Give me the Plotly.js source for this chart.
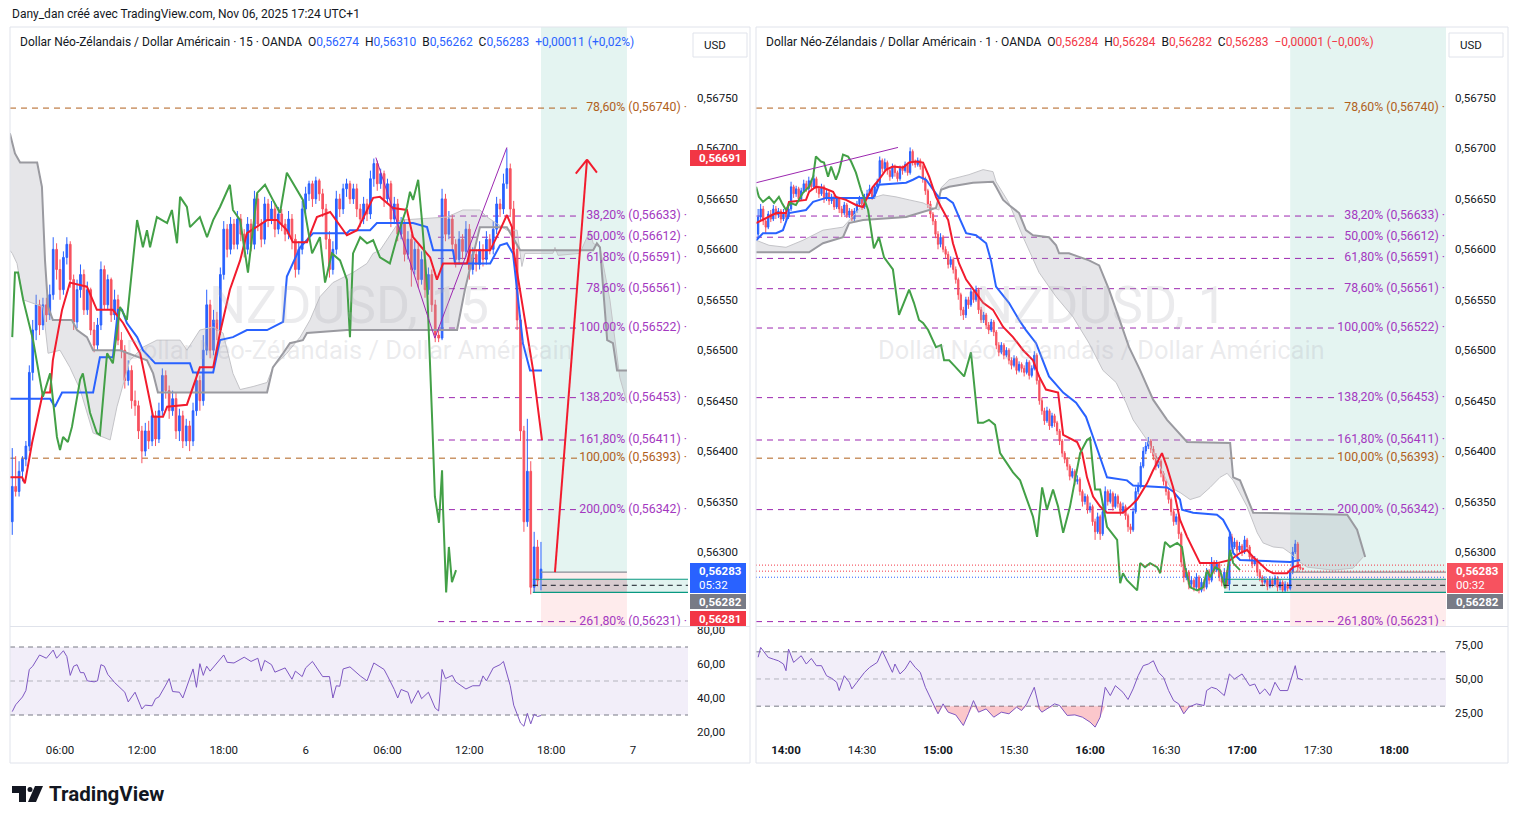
<!DOCTYPE html>
<html><head><meta charset="utf-8">
<script src="https://cdn.plot.ly/plotly-3.0.1.min.js"></script>
<style>html,body{margin:0;padding:0;background:#fff;}#chart{width:1518px;height:824px;}</style>
</head><body><div id="chart"></div>
<script>
// ===== DATA (prices in 1e-5 units, i.e. 56274 = 0,56274) =====
// Left chart: NZDUSD 15 min, bar index 0 = Nov 05 02:30
const L_startBar = 0;
const L_open = [56330,56365,56360,56380,56392,56405,56478,56520,56545,56525,
56545,56535,56555,56600,56580,56560,56592,56605,56570,56528,
56560,56575,56540,56560,56520,56505,56525,56580,56545,56570,
56535,56550,56510,56500,56470,56480,56450,56445,56420,56400,
56420,56410,56435,56412,56440,56475,56460,56440,56452,56420,
56435,56410,56425,56410,56440,56470,56450,56500,56545,56500,
56530,56520,56575,56620,56600,56625,56605,56630,56615,56600,
56625,56605,56650,56625,56610,56645,56630,56640,56620,56635,
56625,56615,56630,56610,56580,56600,56640,56655,56665,56650,
56668,56655,56640,56610,56580,56600,56650,56640,56660,56665,
56650,56660,56640,56630,56645,56635,56670,56685,56665,56675,
56650,56665,56630,56645,56615,56625,56595,56610,56580,56600,
56570,56590,56560,56575,56545,56515,56512,56650,56615,56630,
56605,56590,56610,56598,56620,56580,56595,56585,56600,56590,
56610,56600,56620,56645,56640,56665,56680,56640,56600,56530,
56420,56330,56380,56265,56305,56274];
const L_high = [56403,56395,56390,56395,56410,56485,56530,56555,56550,56552,
56552,56565,56612,56606,56590,56598,56612,56608,56575,56570,
56585,56580,56568,56562,56528,56532,56588,56584,56575,56572,
56560,56555,56518,56505,56490,56485,56460,56450,56425,56428,
56430,56440,56440,56448,56482,56480,56465,56460,56458,56442,
56440,56432,56430,56448,56478,56475,56515,56560,56550,56540,
56538,56582,56628,56625,56632,56630,56638,56635,56620,56632,
56630,56658,56655,56630,56652,56650,56648,56645,56642,56640,
56630,56638,56635,56615,56608,56648,56662,56668,56668,56672,
56670,56660,56645,56618,56608,56658,56655,56665,56670,56668,
56665,56665,56645,56652,56650,56678,56690,56688,56680,56678,
56670,56668,56652,56650,56632,56630,56618,56615,56608,56605,
56598,56595,56582,56580,56550,56522,56660,56655,56638,56635,
56610,56618,56615,56628,56625,56602,56600,56608,56605,56618,
56615,56628,56652,56650,56675,56700,56685,56648,56605,56535,
56425,56432,56390,56320,56312,56310];
const L_low = [56317,56355,56355,56370,56385,56400,56470,56510,56515,56520,
56528,56530,56550,56570,56550,56555,56585,56562,56520,56522,
56552,56535,56535,56515,56498,56500,56520,56540,56540,56528,
56530,56505,56492,56462,56465,56442,56435,56412,56388,56395,
56402,56405,56405,56408,56435,56452,56432,56435,56412,56410,
56403,56405,56400,56405,56435,56440,56445,56495,56492,56495,
56510,56515,56570,56592,56595,56600,56600,56608,56592,56595,
56598,56600,56618,56602,56605,56622,56625,56612,56615,56618,
56608,56610,56600,56572,56575,56595,56635,56648,56642,56645,
56648,56632,56600,56572,56575,56595,56632,56635,56652,56645,
56645,56632,56622,56625,56628,56630,56662,56658,56660,56642,
56645,56622,56625,56608,56610,56588,56590,56563,56575,56562,
56565,56552,56555,56538,56508,56508,56510,56608,56610,56598,
56582,56585,56590,56592,56570,56575,56578,56580,56583,56585,
56595,56595,56615,56632,56635,56660,56632,56592,56520,56410,
56320,56325,56258,56260,56266,56262];
const L_close = [56365,56360,56380,56392,56405,56478,56520,56545,56525,56545,
56535,56555,56600,56580,56560,56592,56605,56570,56528,56560,
56575,56540,56560,56520,56505,56525,56580,56545,56570,56535,
56550,56510,56500,56470,56480,56450,56445,56420,56400,56420,
56410,56435,56412,56440,56475,56460,56440,56452,56420,56435,
56410,56425,56410,56440,56470,56450,56500,56545,56500,56530,
56520,56575,56620,56600,56625,56605,56630,56615,56600,56625,
56605,56650,56625,56610,56645,56630,56640,56620,56635,56625,
56615,56630,56610,56580,56600,56640,56655,56665,56650,56668,
56655,56640,56610,56580,56600,56650,56640,56660,56665,56650,
56660,56640,56630,56645,56635,56670,56685,56665,56675,56650,
56665,56630,56645,56615,56625,56595,56610,56580,56600,56570,
56590,56560,56575,56545,56515,56512,56650,56615,56630,56605,
56590,56610,56598,56620,56580,56595,56585,56600,56590,56610,
56600,56620,56645,56640,56665,56680,56640,56600,56530,56420,
56330,56380,56265,56305,56272,56283];
// Ichimoku-style lines, [bar index, price]
const L_blueLine = [[-0.7,56452],[11.1,56452],[12.5,56444],[14.6,56458],[23.7,56458],[25.7,56493],[29.5,56493],[31.0,56540],[32.2,56540],[33.6,56527],[36.6,56513],[38.3,56500],[41.9,56487],[52.1,56487],[53.0,56478],[58.9,56478],[60.9,56510],[64.7,56513],[68.8,56520],[74.7,56520],[79.4,56528],[80.5,56573],[84.4,56602],[88.2,56616],[98.1,56616],[99.0,56619],[104.9,56619],[106.9,56626],[117.5,56626],[121.6,56622],[123.4,56599],[129.2,56599],[129.8,56586],[140.1,56586],[143.0,56604],[145.0,56606],[146.8,56596],[149.7,56507],[151.8,56480],[155.3,56480]];
const L_redLine = [[-0.7,56374],[2.9,56374],[3.7,56368],[5.8,56408],[9.0,56458],[11.1,56458],[11.9,56490],[14.6,56540],[16.9,56567],[21.9,56563],[24.8,56540],[29.5,56540],[32.5,56527],[35.4,56510],[37.5,56497],[41.3,56434],[44.2,56434],[45.4,56444],[51.2,56446],[55.0,56483],[58.9,56483],[60.9,56517],[63.8,56560],[66.8,56589],[68.8,56616],[74.7,56629],[77.6,56629],[80.5,56619],[82.3,56607],[86.4,56607],[89.3,56632],[93.2,56637],[98.1,56614],[101.1,56619],[105.8,56651],[107.8,56652],[111.6,56641],[115.7,56639],[117.5,56612],[122.5,56592],[124.5,56570],[126.3,56586],[133.3,56586],[134.2,56599],[140.1,56599],[143.0,56619],[145.0,56634],[146.5,56622],[146.8,56602],[152.7,56480],[155.3,56411]];
const L_greenLine = [[0,56513],[0.8,56577],[1.7,56577],[3.2,56550],[6.1,56510],[9.0,56454],[11.1,56477],[13.1,56414],[14.0,56401],[14.9,56414],[16.3,56409],[17.5,56424],[19.9,56471],[20.7,56477],[22.8,56438],[24.8,56418],[25.7,56416],[27.8,56497],[29.5,56487],[31.6,56543],[33.6,56530],[36.6,56629],[38.3,56602],[39.5,56619],[40.4,56602],[42.4,56632],[45.4,56626],[46.8,56639],[48.3,56606],[49.2,56652],[51.2,56642],[52.1,56622],[55.0,56632],[57.1,56612],[58.9,56629],[60.9,56642],[63.8,56664],[64.7,56639],[66.8,56629],[69.1,56577],[71.8,56656],[74.1,56664],[76.4,56649],[78.5,56636],[80.5,56676],[83.5,56659],[85.2,56649],[87.9,56596],[90.2,56612],[91.7,56567],[93.7,56596],[96.1,56589],[98.1,56570],[99.0,56513],[99.9,56596],[102.0,56612],[104.0,56606],[105.8,56609],[107.8,56592],[110.7,56586],[112.8,56612],[115.7,56642],[116.6,56657],[117.5,56649],[119.0,56669],[120.1,56629],[121.6,56563],[123.1,56431],[123.9,56355],[125.1,56329],[126.0,56381],[126.3,56342],[127.2,56260],[128.0,56305],[128.9,56270],[130.1,56282]];
const L_cloudA = [[-0.7,56599],[0,56596],[1.4,56586],[3.2,56550],[9.0,56543],[10.5,56497],[14.0,56500],[16.9,56483],[19.9,56461],[23.7,56418],[28.7,56411],[30.7,56444],[34.5,56490],[38.3,56503],[42.4,56510],[49.2,56510],[51.2,56500],[55.0,56520],[58.9,56523],[61.8,56517],[64.7,56477],[66.8,56461],[70.6,56464],[74.7,56468],[76.4,56483],[80.5,56497],[84.4,56513],[87.3,56530],[90.2,56553],[94.0,56567],[99.9,56577],[104.0,56586],[105.8,56596],[107.8,56599],[113.7,56629],[127.5,56632],[132.1,56639],[137.1,56639],[139.2,56632],[145.0,56619],[148.0,56619],[149.4,56583],[150.3,56596],[158.5,56596],[159.1,56602],[160.0,56594],[166.4,56596],[169.4,56619],[170.3,56606],[172.3,56602],[175.2,56550],[178.1,56473],[180.2,56448]];
const L_cloudB = [[-0.7,56715],[0.8,56695],[2.3,56686],[7.3,56686],[8.7,56662],[9.6,56589],[10.5,56543],[11.9,56530],[17.5,56530],[19.0,56520],[21.9,56513],[23.7,56500],[31.6,56500],[39.5,56490],[41.3,56477],[42.7,56458],[74.7,56458],[76.4,56483],[79.4,56497],[81.4,56507],[85.2,56510],[86.4,56517],[98.1,56520],[130.4,56520],[132.7,56560],[137.1,56622],[145.0,56622],[148.9,56599],[170.3,56599],[171.4,56606],[172.3,56602],[174.4,56510],[176.1,56507],[177.3,56480],[180.2,56480]];
const L_rsi = [[0,32],[1,36],[3,40.6],[4,44.4],[5,56.8],[6,58.7],[8,65.3],[10,63.4],[12,68.2],[13,63.4],[15,67.8],[16,64.4],[17,53.3],[18,58.7],[19,59.6],[20,54.9],[21,54.9],[22,50.1],[24,49.5],[25,50.1],[26,59.6],[27,58.7],[28,53.9],[30,49.1],[33,43.4],[34,37.7],[36,43.4],[38,33.5],[39,35.8],[41,35.4],[42,39.6],[43,40.6],[45,47.6],[46,51.4],[47,43.8],[49,43.4],[50,40.0],[52,52.0],[53,57.1],[54,46.3],[55,60.2],[56,53.3],[57,58.7],[58,55.8],[60,60.6],[62,65.3],[63,61.0],[65,60.6],[68,64.0],[70,61.5],[72,63.4],[73,55.8],[74,62.1],[76,59.6],[77,55.2],[80,57.7],[82,51.0],[83,55.8],[85,52.6],[86,57.7],[88,61.5],[90,55.2],[91,52.6],[93,52.6],[94,40.0],[95,47.2],[96,46.9],[97,57.1],[99,58.3],[102,53.0],[104,50.1],[106,60.6],[109,56.8],[110,53.0],[112,45.0],[113,40.0],[114,45.0],[116,43.4],[117,36.8],[119,44.4],[120,39.6],[122,43.4],[123,38.7],[124,34],[125,32.4],[126,56.8],[127,51.4],[129,53.3],[130,49.5],[133,45.3],[135,47.2],[137,47.2],[138,53.0],[139,50.1],[141,57.7],[143,59.6],[144,61.5],[146,47.2],[147,35.8],[149,25.3],[150,23.4],[151,31.0],[152,24.8],[153,30.5],[154,29.1],[155,29.7]];
const L_timeTickVals = [14,38,62,86,110,134,158,182];
const L_timeTickText = ['06:00','12:00','18:00','6','06:00','12:00','18:00','7'];

// Right chart: NZDUSD 1 min, index = minutes since Nov 06 14:00
const R_startMin = -11;
const R_open = [56615,56632,56640,56628,56622,56635,56630,56640,56634,56638,
56630,56636,56632,56640,56662,56655,56660,56650,56658,56665,
56660,56668,56662,56670,56660,56655,56662,56650,56656,56648,
56652,56642,56650,56640,56636,56644,56634,56638,56630,56638,
56645,56650,56642,56652,56655,56660,56652,56662,56666,56688,
56680,56686,56678,56672,56682,56676,56670,56680,56678,56684,
56676,56697,56686,56684,56688,56682,56670,56658,56645,56635,
56628,56615,56605,56612,56600,56595,56585,56590,56580,56570,
56555,56540,56535,56550,56545,56558,56550,56560,56540,56530,
56535,56525,56520,56528,56518,56505,56498,56505,56495,56500,
56490,56485,56492,56480,56486,56482,56478,56488,56475,56482,
56495,56470,56450,56440,56430,56440,56425,56435,56428,56420,
56410,56398,56392,56385,56375,56380,56370,56372,56360,56350,
56355,56342,56345,56330,56320,56335,56318,56340,56360,56350,
56358,56345,56355,56348,56340,56345,56336,56325,56322,56340,
56360,56365,56385,56400,56405,56410,56402,56395,56385,56390,
56378,56370,56360,56352,56340,56330,56335,56318,56290,56275,
56280,56268,56272,56265,56275,56262,56270,56265,56280,56272,
56290,56282,56288,56275,56270,56280,56268,56315,56305,56310,
56302,56306,56300,56312,56305,56295,56288,56292,56280,56275,
56270,56272,56266,56272,56268,56274,56265,56270,56262,56268,
56264,56280,56300,56308,56285,56284];
const R_high = [56640,56645,56643,56631,56638,56639,56644,56643,56641,56640,
56640,56639,56645,56667,56664,56663,56662,56661,56669,56668,
56672,56670,56674,56672,56663,56665,56664,56659,56658,56655,
56654,56653,56652,56643,56647,56646,56641,56640,56641,56648,
56653,56652,56655,56659,56664,56662,56665,56670,56692,56690,
56690,56688,56681,56685,56684,56678,56683,56683,56687,56686,
56701,56699,56689,56691,56690,56684,56672,56660,56648,56637,
56630,56618,56616,56614,56603,56598,56593,56592,56583,56572,
56557,56543,56553,56553,56562,56560,56564,56562,56543,56538,
56537,56528,56531,56530,56520,56508,56508,56507,56503,56502,
56493,56495,56494,56489,56488,56485,56491,56490,56485,56499,
56497,56472,56453,56443,56444,56442,56438,56437,56430,56422,
56412,56400,56394,56387,56383,56382,56376,56374,56362,56358,
56357,56349,56347,56333,56339,56337,56344,56365,56362,56362,
56360,56358,56357,56350,56349,56347,56338,56328,56344,56364,
56369,56389,56404,56409,56414,56412,56405,56398,56394,56392,
56380,56372,56363,56354,56343,56338,56337,56320,56293,56284,
56282,56276,56274,56279,56277,56274,56273,56284,56283,56295,
56292,56292,56290,56278,56284,56282,56320,56318,56314,56312,
56310,56308,56316,56314,56307,56297,56296,56294,56283,56277,
56276,56274,56276,56274,56277,56276,56273,56272,56271,56270,
56284,56305,56312,56310,56288,56284];
const R_low = [56610,56628,56624,56616,56620,56627,56628,56630,56631,56626,
56628,56629,56630,56638,56651,56652,56647,56648,56656,56657,
56658,56659,56660,56656,56651,56653,56646,56648,56644,56645,
56639,56640,56636,56632,56634,56631,56631,56628,56628,56636,
56643,56639,56640,56650,56653,56649,56650,56660,56664,56676,
56678,56674,56668,56670,56672,56667,56668,56674,56676,56673,
56674,56683,56681,56682,56679,56666,56654,56641,56631,56624,
56611,56600,56602,56597,56591,56581,56582,56576,56566,56550,
56534,56530,56532,56541,56543,56547,56548,56536,56527,56527,
56521,56516,56518,56514,56501,56494,56496,56491,56493,56486,
56481,56483,56476,56478,56478,56474,56476,56471,56473,56480,
56466,56446,56436,56426,56428,56421,56423,56424,56416,56406,
56394,56388,56381,56371,56373,56366,56367,56356,56345,56347,
56338,56339,56326,56312,56318,56312,56316,56338,56346,56348,
56341,56343,56344,56336,56338,56332,56320,56318,56320,56338,
56357,56363,56383,56397,56402,56398,56391,56381,56383,56374,
56366,56356,56348,56336,56326,56327,56313,56285,56270,56272,
56263,56265,56261,56263,56259,56260,56261,56263,56268,56270,
56278,56280,56271,56266,56268,56264,56262,56301,56303,56298,
56300,56296,56298,56301,56291,56284,56286,56276,56271,56266,
56268,56262,56264,56265,56266,56261,56262,56260,56260,56261,
56262,56278,56298,56280,56282,56282];
const R_close = [56632,56640,56628,56622,56635,56630,56640,56634,56638,56630,
56636,56632,56640,56662,56655,56660,56650,56658,56665,56660,
56668,56662,56670,56660,56655,56662,56650,56656,56648,56652,
56642,56650,56640,56636,56644,56634,56638,56630,56638,56645,
56650,56642,56652,56655,56660,56652,56662,56666,56688,56680,
56686,56678,56672,56682,56676,56670,56680,56678,56684,56676,
56697,56686,56684,56688,56682,56670,56658,56645,56635,56628,
56615,56605,56612,56600,56595,56585,56590,56580,56570,56555,
56540,56535,56550,56545,56558,56550,56560,56540,56530,56535,
56525,56520,56528,56518,56505,56498,56505,56495,56500,56490,
56485,56492,56480,56486,56482,56478,56488,56475,56482,56495,
56470,56450,56440,56430,56440,56425,56435,56428,56420,56410,
56398,56392,56385,56375,56380,56370,56372,56360,56350,56355,
56342,56345,56330,56320,56335,56318,56340,56360,56350,56358,
56345,56355,56348,56340,56345,56336,56325,56322,56340,56360,
56365,56385,56400,56405,56410,56402,56395,56385,56390,56378,
56370,56360,56352,56340,56330,56335,56318,56290,56275,56280,
56268,56272,56265,56275,56262,56270,56265,56280,56272,56290,
56282,56288,56275,56270,56280,56268,56315,56305,56310,56302,
56306,56300,56312,56305,56295,56288,56292,56280,56275,56270,
56272,56266,56272,56268,56274,56265,56270,56262,56268,56264,
56280,56300,56308,56285,56284,56283];
const R_redLine = [[-11.8,56626],[-7.9,56631],[-3.9,56636],[0,56636],[1.2,56647],[7.9,56649],[9.1,56657],[11.8,56662],[14.6,56661],[18.6,56657],[19.7,56652],[23.7,56649],[27.6,56644],[30.4,56642],[31.6,56649],[34.3,56662],[36.7,56669],[39.5,56679],[42.2,56682],[46.2,56681],[48.6,56686],[51.3,56687],[54.1,56686],[56.5,56672],[59.2,56652],[61.2,56642],[64.0,56629],[65.9,56606],[68.3,56586],[71.1,56570],[75.0,56557],[77.8,56547],[81.7,56540],[85.7,56523],[89.6,56513],[93.6,56500],[97.5,56490],[99.9,56474],[102.6,56461],[107.4,56458],[109.4,56416],[114.9,56409],[116.9,56398],[118.8,56374],[121.2,56355],[124.0,56345],[126.7,56339],[133.0,56339],[135.8,56345],[138.6,56352],[142.5,56368],[144.9,56381],[148.4,56398],[150.4,56384],[152.8,56364],[155.5,56332],[158.3,56315],[160.7,56302],[163.4,56289],[170.1,56289],[175.3,56292],[179.2,56299],[182.0,56302],[184.4,56295],[187.1,56289],[189.9,56282],[192.3,56279],[197.8,56279],[200.2,56285],[202.9,56287]];
const R_blueLine = [[-11.8,56609],[-9.1,56616],[-3.9,56616],[-1.2,56619],[1.2,56636],[7.9,56639],[10.7,56647],[15.8,56651],[34.3,56651],[35.5,56656],[36.7,56664],[47.4,56666],[50.1,56669],[52.5,56672],[55.3,56669],[58.0,56659],[60.4,56651],[63.2,56651],[65.9,56646],[68.3,56632],[71.1,56616],[75.0,56614],[79.0,56606],[80.9,56589],[82.9,56563],[88.0,56547],[92.0,56530],[94.7,56520],[98.7,56507],[103.8,56474],[109.4,56458],[114.5,56448],[118.4,56434],[121.2,56414],[124.0,56394],[126.7,56374],[134.6,56371],[137.0,56366],[150.4,56364],[152.8,56360],[155.5,56352],[156.3,56342],[160.7,56339],[170.1,56337],[172.5,56332],[175.3,56319],[176.5,56299],[179.2,56292],[199.0,56290],[202.9,56292]];
const R_greenLine = [[-11.8,56662],[-10.7,56652],[-9.1,56647],[-6.7,56652],[-4.7,56646],[-2.8,56652],[-1.6,56646],[0,56639],[1.6,56646],[3.9,56644],[6.7,56656],[9.1,56662],[10.7,56672],[11.8,56692],[13.8,56687],[15.0,56686],[16.6,56672],[17.8,56682],[19.7,56669],[20.9,56677],[22.5,56694],[24.5,56692],[25.7,56687],[27.6,56676],[29.6,56659],[30.8,56651],[32.4,56639],[34.7,56601],[36.7,56612],[38.7,56592],[42.2,56580],[44.6,56535],[46.6,56547],[48.6,56560],[50.5,56547],[52.5,56530],[54.1,56527],[56.1,56520],[59.2,56503],[61.2,56505],[62.4,56490],[64.4,56490],[66.3,56485],[68.3,56480],[70.3,56474],[73.0,56498],[75.8,56428],[77.8,56428],[80.1,56431],[82.5,56426],[84.5,56398],[89.6,56379],[92.4,56371],[95.1,56352],[97.5,56335],[99.1,56315],[101.1,56364],[103.0,56342],[105.4,56362],[107.4,56345],[109.4,56319],[112.1,56345],[116.1,56398],[118.8,56411],[120.0,56413],[122.0,56362],[124.0,56362],[126.7,56325],[130.7,56312],[131.9,56269],[133.0,56279],[134.6,56272],[136.6,56267],[138.6,56262],[139.8,56289],[141.7,56285],[143.7,56289],[146.5,56285],[147.7,56279],[149.6,56310],[151.6,56305],[154.4,56309],[156.3,56305],[157.5,56285],[159.5,56265],[162.3,56262],[164.6,56265],[166.2,56282],[167.4,56275],[169.4,56285],[171.3,56282],[173.3,56264],[175.3,56302],[176.5,56289],[179.2,56282]];
const R_cloudA = [[-11.8,56609],[-6.7,56604],[0,56602],[6.7,56609],[14.6,56619],[22.5,56622],[27.6,56636],[31.6,56649],[38.3,56654],[43.4,56652],[48.6,56649],[54.1,56646],[58.0,56641],[60.4,56639],[61.2,56661],[64.4,56669],[72.2,56674],[77.8,56679],[81.7,56677],[82.9,56667],[88.0,56646],[93.6,56612],[99.9,56577],[106.6,56553],[113.3,56533],[119.6,56507],[125.1,56480],[130.3,56468],[134.2,56448],[137.0,56431],[142.5,56411],[147.7,56384],[151.6,56364],[155.5,56359],[159.5,56352],[163.4,56355],[167.4,56364],[171.3,56374],[174.1,56378],[176.5,56371],[182.0,56345],[186.0,56319],[188.3,56309],[192.3,56305],[196.2,56304],[199.0,56299],[201.7,56292],[205.7,56285],[215.9,56282],[223.8,56284],[227.8,56295]];
const R_cloudB = [[-11.8,56597],[9.1,56597],[14.6,56606],[22.5,56612],[24.9,56626],[30.4,56629],[47.4,56632],[54.1,56637],[59.2,56641],[61.2,56659],[64.4,56662],[73.8,56666],[81.7,56667],[82.9,56662],[85.7,56649],[88.0,56644],[92.0,56636],[94.7,56619],[97.5,56614],[103.8,56612],[106.6,56604],[107.8,56596],[111.7,56596],[119.6,56589],[123.6,56584],[127.5,56560],[130.3,56540],[133.0,56520],[135.4,56503],[139.8,56480],[144.9,56451],[150.4,56431],[158.3,56409],[175.3,56408],[176.5,56374],[179.2,56371],[184.4,56339],[221.5,56337],[225.4,56322],[226.6,56312],[228.6,56295]];
const R_rsi = [[-11,66],[-10,73.2],[-8,68.3],[-7,65.9],[-5,64.6],[-3,63.4],[-1,61.0],[0,56.1],[1,72.0],[3,62.2],[6,67.1],[8,61.0],[10,65.1],[12,59.8],[14,59.8],[16,52.4],[18,50.5],[20,47.6],[21,41.5],[23,52.4],[25,47.6],[26,42.7],[28,47.6],[31,54.9],[33,58.5],[36,62.2],[38,70.7],[40,63.4],[42,54.9],[43,61.0],[45,53.7],[47,57.3],[49,63.4],[51,58.5],[53,54.9],[55,43.9],[58,31.7],[60,24.4],[62,31.7],[64,25.6],[67,23.6],[70,15.8],[72,24.4],[74,34.1],[76,25.6],[79,28.0],[82,21.9],[85,25.6],[88,24.4],[91,29.3],[93,26.8],[95,31.7],[98,43.9],[100,28.0],[101,25.6],[103,28.0],[106,31.7],[108,30.5],[111,23.2],[114,23.6],[117,21.9],[120,18.3],[122,14.6],[124,21.9],[126,43.9],[128,37.8],[130,45.1],[133,40.2],[135,34.9],[137,42.7],[139,52.4],[141,59.8],[143,61.0],[145,63.4],[147,54.9],[149,51.2],[151,41.5],[153,34.1],[155,31.7],[157,24.4],[159,29.3],[162,31.7],[165,30.5],[166,41.5],[168,43.9],[170,42.7],[173,37.8],[175,53.7],[177,50.0],[180,53.7],[183,45.1],[185,46.3],[187,39.0],[189,42.7],[191,37.8],[193,47.6],[195,41.5],[198,41.5],[200,54.9],[201,59.8],[202,50.5],[204,49.3]];
const R_timeTickVals = [0,30,60,90,120,150,180,210,240];
const R_timeTickText = ['<b>14:00</b>','14:30','<b>15:00</b>','15:30','<b>16:00</b>','16:30','<b>17:00</b>','17:30','<b>18:00</b>'];

// Fibonacci levels (both charts), price scale ticks, RSI ticks
const fibLevels = [38.2, 50, 61.8, 78.6, 100, 138.2, 161.8, 200, 261.8];
const fibPrices = [56633, 56612, 56591, 56561, 56522, 56453, 56411, 56342, 56231];
const fib2Levels = [78.6, 100];
const fib2Prices = [56740, 56393];
const priceTicks = [56300,56350,56400,56450,56500,56550,56600,56650,56700,56750];
const L_rsiTicks = [20, 40, 60, 80];
const R_rsiTicks = [25, 50, 75];
const L_pointA = 56691;        // label of the fib extension start point
const L_countdown = '05:32', R_countdown = '00:32';
const bidAsk = [56282, 56281]; // grey / red axis labels

// ===== LAYOUT HELPERS =====
const W = 1518, H = 824;
const px = x => x / W, py = y => 1 - y / H;
const P = v => v / 1e5;
const FONT = 'Roboto, "Noto Sans", Arial, sans-serif';
const fmt5 = v => (v / 1e5).toFixed(5).replace('.', ',');
const fmtPct = v => v.toFixed(2).replace('.', ',') + '%';
const PURPLE = '#9c27b0', BROWN = '#b0601c';
const BLUE = '#2962ff', RED = '#f7525f', LRED = '#f21b2d', GREEN = '#43a047';

const LX = [-0.66, 198.1], RX = [-11.84, 260.5];
const PY = [0.5622665, 0.5682037];

const traces = [];
function lineTrace(pairs, xa, ya, color, width, extra) {
  return Object.assign({type:'scatter', mode:'lines', x: pairs.map(p=>p[0]), y: pairs.map(p=>P(p[1])),
    xaxis: xa, yaxis: ya, line:{color, width}, hoverinfo:'skip', showlegend:false}, extra||{});
}
function cloud(A, B, xa, ya) {
  traces.push(lineTrace(A, xa, ya, '#c4c4c8', 1));
  traces.push(lineTrace(B, xa, ya, '#9a9aa0', 2, {fill:'tonexty', fillcolor:'rgba(165,165,175,0.28)'}));
}
function candles(xs, o, h, l, c, xa, ya) {
  traces.push({type:'candlestick', x: xs, open:o.map(P), high:h.map(P), low:l.map(P), close:c.map(P),
    xaxis:xa, yaxis:ya, whiskerwidth:0, hoverinfo:'skip', showlegend:false,
    increasing:{line:{color:BLUE, width:1}, fillcolor:BLUE},
    decreasing:{line:{color:RED, width:1}, fillcolor:RED}});
}
const L_x = L_close.map((_, i) => L_startBar + i);
const R_x = R_close.map((_, i) => R_startMin + i);

// left price pane
cloud(L_cloudA, L_cloudB, 'x', 'y');
traces.push(lineTrace(L_blueLine, 'x', 'y', BLUE, 2));
traces.push(lineTrace(L_redLine, 'x', 'y', LRED, 2));
traces.push(lineTrace(L_greenLine, 'x', 'y', GREEN, 2));
candles(L_x, L_open, L_high, L_low, L_close, 'x', 'y');
// right price pane
cloud(R_cloudA, R_cloudB, 'x3', 'y3');
traces.push(lineTrace(R_blueLine, 'x3', 'y3', BLUE, 2));
traces.push(lineTrace(R_redLine, 'x3', 'y3', LRED, 2));
traces.push(lineTrace(R_greenLine, 'x3', 'y3', GREEN, 2));
candles(R_x, R_open, R_high, R_low, R_close, 'x3', 'y3');

// fib labels (as text traces so they are clipped by the pane)
function fibLabel(lv, pr, color, xpos, xa, ya) {
  traces.push({type:'scatter', mode:'text', x: pr.map(()=>xpos), y: pr.map(P),
    text: lv.map((l,i)=> l.toFixed(2).replace('.', ',') + '% (' + fmt5(pr[i]) + ') ·'),
    textposition:'middle left', textfont:{color, size:12.3, family:FONT},
    xaxis:xa, yaxis:ya, hoverinfo:'skip', showlegend:false, cliponaxis:true});
}
fibLabel(fibLevels, fibPrices, '#a338c0', 197.8, 'x', 'y');
fibLabel(fib2Levels, fib2Prices, BROWN, 197.8, 'x', 'y');
fibLabel(fibLevels, fibPrices, '#a338c0', 260.1, 'x3', 'y3');
fibLabel(fib2Levels, fib2Prices, BROWN, 260.1, 'x3', 'y3');

// RSI
traces.push({type:'scatter', mode:'lines', x:L_rsi.map(p=>p[0]), y:L_rsi.map(p=>p[1]), xaxis:'x2', yaxis:'y2',
  line:{color:'#7e57c2', width:1}, hoverinfo:'skip', showlegend:false});
traces.push({type:'scatter', mode:'lines', x:R_rsi.map(p=>p[0]), y:R_rsi.map(()=>30), xaxis:'x4', yaxis:'y4',
  line:{width:0}, hoverinfo:'skip', showlegend:false});
traces.push({type:'scatter', mode:'lines', x:R_rsi.map(p=>p[0]), y:R_rsi.map(p=>Math.min(p[1],30)), xaxis:'x4', yaxis:'y4',
  line:{width:0}, fill:'tonexty', fillcolor:'rgba(242,54,69,0.28)', hoverinfo:'skip', showlegend:false});
traces.push({type:'scatter', mode:'lines', x:R_rsi.map(p=>p[0]), y:R_rsi.map(p=>p[1]), xaxis:'x4', yaxis:'y4',
  line:{color:'#7e57c2', width:1}, hoverinfo:'skip', showlegend:false});

// ===== SHAPES =====
const shapes = [];
const hline = (xa, ya, x0, x1, y, color, dash, width, layer) =>
  shapes.push({type:'line', xref:xa, yref:ya, x0, x1, y0:y, y1:y, line:{color, width:width||1, dash:dash||'solid'}, layer:layer||'above'});
const rect = (xa, ya, x0, x1, y0, y1, fill, line, layer) =>
  shapes.push({type:'rect', xref:xa, yref:ya, x0, x1, y0, y1, fillcolor:fill, line:line||{width:0}, layer:layer||'below'});

// long-position tools
function tool(xa, ya, xEntry, xEnd, xBoxStart, xAxisEnd, grayFrom) {
  rect(xa, ya, xEntry, xEnd, P(56280), 0.5690, 'rgba(8,153,129,0.11)');
  rect(xa, ya, xEntry, xEnd, 0.5620, P(56280), 'rgba(242,54,69,0.10)');
  rect(xa, ya, grayFrom, xEnd, P(56260), P(56273), 'rgba(120,123,134,0.28)');
  rect(xa, ya, grayFrom === xBoxStart ? xEnd : xBoxStart, grayFrom === xBoxStart ? xAxisEnd : grayFrom, P(56260), P(56273), 'rgba(8,153,129,0.12)');
  hline(xa, ya, xBoxStart, xAxisEnd, P(56273), '#089981', 'solid', 1.2);
  hline(xa, ya, xBoxStart, xAxisEnd, P(56260), '#089981', 'solid', 1.2);
  hline(xa, ya, xBoxStart, xAxisEnd, P(56267), '#131722', '5px,4px', 1);
  hline(xa, ya, xEntry, xEnd, P(56280), '#8a8d96', 'solid', 1.2);
}
tool('x', 'y', 155.0, 180.2, 152.6, 198.1, 152.6);
tool('x3', 'y3', 199.0, 260.5, 172.9, 260.5, 199.0);
// right chart dotted lines
hline('x3','y3', RX[0], RX[1], P(56287), '#f23645', '1px,2px', 1);
hline('x3','y3', RX[0], RX[1], P(56281), '#f23645', '1px,2px', 1);
hline('x3','y3', RX[0], RX[1], P(56275), BLUE, '1px,2px', 1);

// fib lines
fibPrices.forEach(p => { hline('x','y', 124.8, 166.4, P(p), PURPLE, '6px,5px', 1, 'below'); hline('x3','y3', RX[0], 216.7, P(p), PURPLE, '6px,5px', 1, 'below'); });
fib2Prices.forEach(p => { hline('x','y', LX[0], 166.4, P(p), BROWN, '6px,5px', 1, 'below'); hline('x3','y3', RX[0], 216.7, P(p), BROWN, '6px,5px', 1, 'below'); });

// drawings: purple fib V, right trend line, red arrow
const seg = (xa, ya, x0, y0, x1, y1, color, w) => shapes.push({type:'line', xref:xa, yref:ya, x0, y0:P(y0), x1, y1:P(y1), line:{color, width:w}, layer:'above'});
seg('x','y', 106.6, L_pointA, 123.9, 56512, '#9c27b0', 1);
seg('x','y', 123.9, 56512, 145.0, 56701, '#9c27b0', 1);
seg('x3','y3', -11.8, 56666, 44.2, 56701, '#9c27b0', 1);
seg('x','y', 159.1, 56280, 168.5, 56689, LRED, 2);
seg('x','y', 168.5, 56689, 165.2, 56675, LRED, 2);
seg('x','y', 168.5, 56689, 171.4, 56676, LRED, 2);

// RSI bands
[['x2','y2'],['x4','y4']].forEach(([xa, ya], i) => {
  const xr = i ? RX : LX;
  rect(xa, ya, xr[0], xr[1], 30, 70, 'rgba(126,87,194,0.10)');
  [70, 50, 30].forEach(v => hline(xa, ya, xr[0], xr[1], v, v===50 ? 'rgba(120,123,134,0.5)' : '#787b86', '5px,4px', 1, 'below'));
});

// frame, separators
const pline = (x0,y0,x1,y1,color,w) => shapes.push({type:'line', xref:'paper', yref:'paper', x0:px(x0), y0:py(y0), x1:px(x1), y1:py(y1), line:{color, width:w||1}, layer:'above'});
const prect = (x0,y0,x1,y1,fill,lineColor) => shapes.push({type:'rect', xref:'paper', yref:'paper', x0:px(x0), y0:py(y0), x1:px(x1), y1:py(y1), fillcolor:fill, line:lineColor?{color:lineColor,width:1}:{width:0}, layer:'above'});
prect(10,27,750,763,'rgba(0,0,0,0)','#e0e3eb');
prect(756,27,1508,763,'rgba(0,0,0,0)','#e0e3eb');
pline(10,626.5,750,626.5,'#e0e3eb'); pline(756,626.5,1508,626.5,'#e0e3eb');
prect(693,33,747,57,'#ffffff','#e0e3eb');
prect(1449,33,1503,57,'#ffffff','#e0e3eb');
// axis value labels
prect(690,150,746,166,'#f23645');
prect(690,563,746,593,BLUE);
prect(690,594,746,609,'#787b86');
prect(690,611,746,626,'#f23645');
prect(1447,563,1503,593,'#f7525f');
prect(1447,594,1503,609,'#787b86');
// TradingView logo
const pth = pts => 'M' + pts.map(p => px(p[0]) + ',' + py(p[1])).join(' L') + ' Z';
shapes.push({type:'path', xref:'paper', yref:'paper', path: pth([[12,786],[26,786],[26,802],[19,802],[19,793],[12,793]]), fillcolor:'#131722', line:{width:0}});
shapes.push({type:'circle', xref:'paper', yref:'paper', x0:px(27.5), x1:px(32.5), y0:py(792), y1:py(787), fillcolor:'#131722', line:{width:0}});
shapes.push({type:'path', xref:'paper', yref:'paper', path: pth([[35,786],[43,786],[36,802],[28,802]]), fillcolor:'#131722', line:{width:0}});

// ===== ANNOTATIONS =====
const ann = [];
const txt = (x, y, text, opt) => ann.push(Object.assign({xref:'paper', yref:'paper', x:px(x), y:py(y), text, showarrow:false,
  xanchor:'left', yanchor:'middle', font:{family:FONT, size:11.5, color:'#131722'}}, opt||{}));
// watermarks
txt(349, 305, 'NZDUSD, 15', {xanchor:'center', font:{family:FONT, size:52, color:'rgba(175,175,185,0.25)'}});
txt(349, 350, 'Dollar Néo-Zélandais / Dollar Américain', {xanchor:'center', font:{family:FONT, size:25.5, color:'rgba(175,175,185,0.25)'}});
txt(1101, 305, 'NZDUSD, 1', {xanchor:'center', font:{family:FONT, size:52, color:'rgba(175,175,185,0.25)'}});
txt(1101, 350, 'Dollar Néo-Zélandais / Dollar Américain', {xanchor:'center', font:{family:FONT, size:25.5, color:'rgba(175,175,185,0.25)'}});
// header
txt(10, 14, 'Dany_dan créé avec TradingView.com, Nov 06, 2025 17:24 UTC+1', {font:{family:FONT, size:12, color:'#131722'}});
function legend(x, tf, o, h, l, c, prev) {
  const ch = c[c.length-1] - prev;
  const col = ch >= 0 ? BLUE : '#f23645';
  const sign = ch >= 0 ? '+' : '−';
  const sp = v => '<span style="color:' + col + '">' + v + '</span>';
  const last = a => fmt5(a[a.length-1]);
  const pct = Math.abs(ch) / prev * 100;
  const g = '&#160;&#160;';
  const t = 'Dollar Néo-Zélandais / Dollar Américain · ' + tf + ' · OANDA' + g + 'O' + sp(last(o)) + g + 'H' + sp(last(h)) +
    g + 'B' + sp(last(l)) + g + 'C' + sp(last(c)) + g + sp(sign + fmt5(Math.abs(ch)) + ' (' + sign + fmtPct(pct) + ')');
  txt(x, 42, t, {font:{family:FONT, size:12, color:'#131722'}});
}
legend(18, '15', L_open, L_high, L_low, L_close, L_close[L_close.length-2]);
legend(764, '1', R_open, R_high, R_low, R_close, R_close[R_close.length-2]);
txt(702, 45, 'USD', {font:{family:FONT, size:11.5, color:'#131722'}});
txt(1458, 45, 'USD', {font:{family:FONT, size:11.5, color:'#131722'}});
const white = {family:FONT, size:11.5, color:'#ffffff'};
txt(697, 158, '<b>' + fmt5(L_pointA) + '</b>', {font:white});
txt(697, 571, '<b>' + fmt5(L_close[L_close.length-1]) + '</b>', {font:white});
txt(697, 585, L_countdown, {font:white});
txt(697, 601.5, '<b>' + fmt5(bidAsk[0]) + '</b>', {font:white});
txt(697, 618.5, '<b>' + fmt5(bidAsk[1]) + '</b>', {font:white});
txt(1454, 571, '<b>' + fmt5(R_close[R_close.length-1]) + '</b>', {font:white});
txt(1454, 585, R_countdown, {font:white});
txt(1454, 601.5, '<b>' + fmt5(bidAsk[0]) + '</b>', {font:white});
txt(47, 794, '<b>TradingView</b>', {font:{family:FONT, size:20.5, color:'#131722'}});

// ===== AXES =====
const tickfont = {family:FONT, size:11.5, color:'#131722'};
const baseX = {showgrid:false, zeroline:false, showline:false, ticks:'', fixedrange:true};
const baseY = {showgrid:false, zeroline:false, showline:false, ticks:'', side:'right', tickfont, ticklabelstandoff:8, fixedrange:true};
const layout = {
  width:W, height:H, margin:{l:0,r:0,t:0,b:0}, paper_bgcolor:'#ffffff', plot_bgcolor:'rgba(0,0,0,0)',
  showlegend:false, hovermode:false, separators:', ', font:{family:FONT},
  xaxis: Object.assign({}, baseX, {domain:[px(10),px(688)], range:LX, anchor:'y', showticklabels:false, rangeslider:{visible:false}}),
  yaxis: Object.assign({}, baseY, {domain:[py(626),py(27)], range:PY, anchor:'x', tickvals:priceTicks.map(P), tickformat:'.5f'}),
  xaxis2: Object.assign({}, baseX, {domain:[px(10),px(688)], range:LX, anchor:'y2', tickvals:L_timeTickVals, ticktext:L_timeTickText, tickfont, ticklabelstandoff:3}),
  yaxis2: Object.assign({}, baseY, {domain:[py(738),py(628)], range:[16.47,81.18], anchor:'x2', tickvals:L_rsiTicks, tickformat:'.2f'}),
  xaxis3: Object.assign({}, baseX, {domain:[px(756),px(1446)], range:RX, anchor:'y3', showticklabels:false, rangeslider:{visible:false}}),
  yaxis3: Object.assign({}, baseY, {domain:[py(626),py(27)], range:PY, anchor:'x3', tickvals:priceTicks.map(P), tickformat:'.5f'}),
  xaxis4: Object.assign({}, baseX, {domain:[px(756),px(1446)], range:RX, anchor:'y4', tickvals:R_timeTickVals, ticktext:R_timeTickText, tickfont, ticklabelstandoff:3}),
  yaxis4: Object.assign({}, baseY, {domain:[py(738),py(628)], range:[6.6,87.5], anchor:'x4', tickvals:R_rsiTicks, tickformat:'.2f'}),
  shapes, annotations: ann
};
Plotly.newPlot('chart', traces, layout, {staticPlot:true, displayModeBar:false});
</script></body></html>
